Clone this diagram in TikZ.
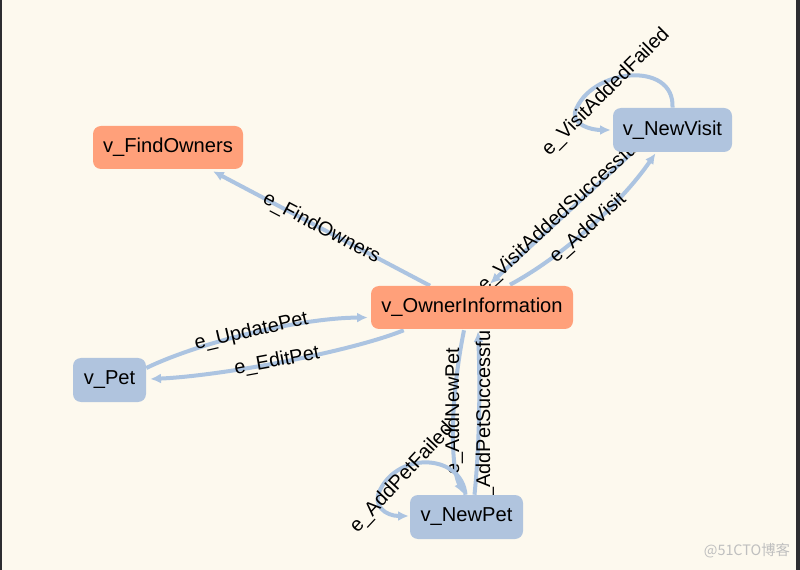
\documentclass[tikz,border=0pt]{standalone}
\usepackage{fontspec}
\setmainfont{Liberation Sans}
\newfontfamily\cjk{Noto Sans CJK SC}
\usetikzlibrary{arrows.meta,calc}
\definecolor{bgc}{RGB}{253,249,238}
\definecolor{vorange}{RGB}{255,160,122}
\definecolor{vblue}{RGB}{176,196,222}
\definecolor{eblue}{RGB}{172,196,225}
\definecolor{frame}{RGB}{45,45,48}
\pgfdeclarelayer{bglayer}
\pgfdeclarelayer{edgelayer}
\pgfsetlayers{bglayer,edgelayer,main}
\tikzset{
  vtx/.style={rounded corners=6pt, inner sep=0pt, text=black,
    font=\fontsize{15.1}{18}\selectfont},
  orangev/.style={vtx, fill=vorange},
  bluev/.style={vtx, fill=vblue},
  edge/.style={draw=eblue, line width=3pt, -{Latex[length=8pt,width=7.5pt]}},
  elabel/.style={font=\fontsize{14.9}{18}\selectfont, text=black, inner sep=0pt},
}
\begin{document}
\begin{tikzpicture}[x=0.75pt,y=-0.75pt]
\begin{pgfonlayer}{bglayer}
  \fill[bgc] (0,0) rectangle (800,570);
  \fill[frame] (0,0) rectangle (2,570);
  \fill[frame] (796,0) rectangle (800,570);
\end{pgfonlayer}
\useasboundingbox (0,0) rectangle (800,570);

% vertices
\node[orangev, minimum width=112.5pt, minimum height=32.25pt] (fo) at (168,147.5) {v\_FindOwners};
\node[orangev, minimum width=151.5pt, minimum height=32.25pt] (oi) at (472,307.5) {v\_OwnerInformation};
\node[bluev, minimum width=89.25pt, minimum height=33pt] (nv) at (672.5,130) {v\_NewVisit};
\node[bluev, minimum width=54.75pt, minimum height=33pt] (pet) at (109.5,380) {v\_Pet};
\node[bluev, minimum width=84.75pt, minimum height=33pt] (np) at (466.5,517) {v\_NewPet};

\node[font=\cjk\fontsize{10.8}{13}\selectfont, text=black!25, inner sep=0pt] (wm) at (747,551) {@51CTO博客};

\begin{pgfonlayer}{edgelayer}
% e_FindOwners
\draw[edge] ($(oi.north)+(-42,0)$) -- ($(fo.south)+(45,2)$)
  node[elabel, midway, sloped] (lfo) {e\_FindOwners};
% e_UpdatePet
\draw[edge] ($(pet.east)+(0,-12)$) .. controls (200,342) and (300,318) .. ($(oi.west)+(-3,10)$)
  node[elabel, midway, sloped, yshift=1pt] (lup) {e\_UpdatePet};
% e_EditPet
\draw[edge] ($(oi.south west)+(33,1)$) .. controls (350,352) and (220,376) .. ($(pet.east)+(4,-1)$)
  node[elabel, pos=0.52, sloped, yshift=1pt] (led) {e\_EditPet};
% e_AddVisit
\draw[edge] ($(oi.north)+(38,-1)$) .. controls (560,258) and (620,205) .. ($(nv.south)+(-17,1)$)
  node[elabel, midway, sloped] (lav) {e\_AddVisit};
% e_VisitAddedSuccessful
\draw[edge] ($(nv.south)+(-40,0)$) -- ($(oi.north)+(18,-2)$)
  node[elabel, midway, sloped, yshift=2pt] (lvs) {e\_VisitAddedSuccessful};
% e_VisitAddedFailed (loop)
\draw[edge] (nv.north) .. controls (675,60) and (590,68) .. (575,112)
  .. controls (572,124) and (590,130) .. ($(nv.west)+(-2,0)$);
\node[elabel, rotate=45] (lvf) at (606,92) {e\_VisitAddedFailed};
% e_AddNewPet
\draw[edge] ($(oi.south)+(-8,1)$) .. controls (450,400) and (450,465) .. ($(np.north)+(-3,-1)$);
\node[elabel, rotate=90] (lanp) at (454,411) {e\_AddNewPet};
% e_AddPetSuccessful
\draw[edge] ($(np.north)+(8,0)$) .. controls (480,440) and (480,380) .. ($(oi.south)+(6,2)$);
\node[elabel, rotate=90] (laps) at (485,418) {e\_AddPetSuccessful};
% e_AddPetFailed (loop)
\draw[edge] ($(np.north)+(-1,0)$) .. controls (462,455) and (400,450) .. (380,490)
  .. controls (372,505) and (385,516) .. ($(np.west)+(-1,-1)$);
\node[elabel, rotate=47] (lapf) at (402,478) {e\_AddPetFailed};
\end{pgfonlayer}
\end{tikzpicture}
\end{document}
